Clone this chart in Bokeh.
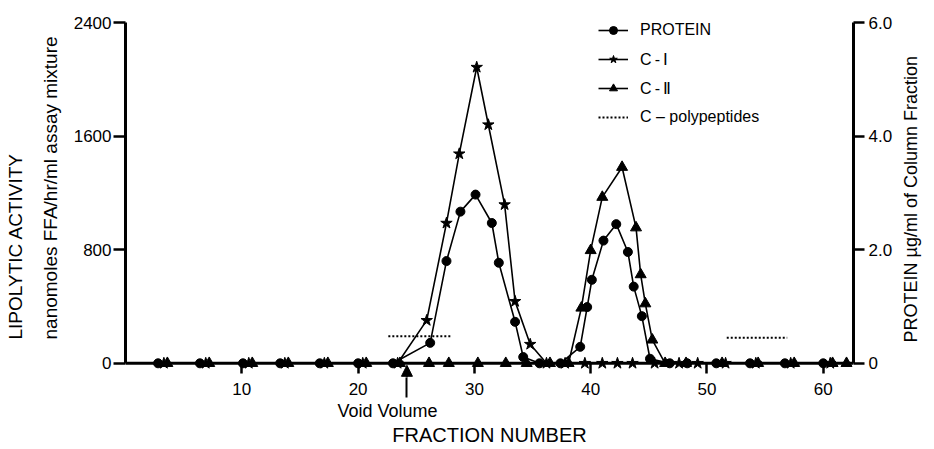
from math import pi
from bokeh.plotting import figure
from bokeh.models import (Range1d, LinearAxis, FixedTicker, Arrow, Span, Title,
                          NormalHead, Legend, LegendItem)
from bokeh.embed import file_html
from bokeh.resources import INLINE

FONT = "Liberation Sans"

# ---- data ----
protein_fraction = [2.8, 6.4, 10.1, 13.3, 16.7, 20.0, 23.0,
                    26.2, 27.6, 28.8, 30.1, 31.5, 32.1, 33.5, 34.2,
                    35.6, 37.4,
                    39.1, 39.7, 40.1, 41.1, 42.2, 43.2, 43.7, 44.4, 45.1,
                    46.8, 48.3, 50.8, 53.7, 56.7, 60.0]
protein_ug_ml = [0, 0, 0, 0, 0, 0, 0,
                 0.36, 1.80, 2.67, 2.97, 2.47, 1.77, 0.73, 0.11,
                 0, 0,
                 0.29, 0.99, 1.47, 2.16, 2.45, 1.96, 1.35, 0.83, 0.08,
                 0, 0, 0, 0, 0, 0]

c1_fraction = [3.3, 6.9, 10.6, 13.7, 17.1, 20.4, 23.4,
               25.9, 27.6, 28.7, 30.2, 31.2, 32.6, 33.5, 34.8,
               36.2, 37.8, 39.5, 41.0, 42.3, 43.6, 45.5,
               47.6, 49.2, 51.6, 54.2, 57.2, 60.6]
c1_activity = [0, 0, 0, 0, 0, 0, 0,
               302, 987, 1475, 2085, 1680, 1117, 436, 134,
               0, 0, 0, 0, 0, 0, 0,
               0, 0, 0, 0, 0, 0]

c2_fraction = [3.6, 7.2, 10.9, 14.0, 17.4, 20.7, 23.6,
               26.1, 27.8, 30.3, 32.7, 34.5, 36.5, 38.1,
               39.2, 40.0, 41.0, 42.7, 43.9, 44.3, 44.7, 45.3,
               46.4, 48.2, 51.3, 54.4, 57.5, 60.8, 62.0]
c2_activity = [0, 0, 0, 0, 0, 0, 0,
               0, 0, 0, 0, 0, 0, 0,
               390, 795, 1170, 1381, 955, 625, 420, 165,
               0, 0, 0, 0, 0, 0, 0]

cpoly_start = [22.6, 51.7]
cpoly_end = [28.0, 56.9]
cpoly_activity = [190, 180]

void_fraction = 24.2

x_ticks = [10, 20, 30, 40, 50, 60]
left_ticks = [0, 800, 1600, 2400]
right_ticks = [0, 2, 4, 6]
right_tick_labels = ["0", "2.0", "4.0", "6.0"]

# ---- figure ----
p = figure(width=934, height=449, output_backend="svg", toolbar_location=None,
           title=None, x_range=Range1d(0, 62.6), y_range=Range1d(-100, 2400),
           min_border_left=125, min_border_right=81, min_border_top=22,
           min_border_bottom=72, outline_line_color=None)
p.grid.visible = False
p.extra_y_ranges = {"protein": Range1d(-0.25, 6.0)}


def style_axis(ax, tick_out, standoff):
    ax.axis_line_width = 3
    ax.axis_line_color = "black"
    ax.major_tick_line_width = 2.5
    ax.major_tick_line_color = "black"
    ax.major_tick_out = tick_out
    ax.major_tick_in = 0
    ax.minor_tick_out = 0
    ax.minor_tick_in = 0
    ax.major_label_text_font = FONT
    ax.major_label_text_font_size = "17px"
    ax.major_label_text_color = "black"
    ax.major_label_standoff = standoff


# bottom axis: line drawn at y = 0 by a span, ticks start at y = 0
xax = p.xaxis[0]
xax.ticker = FixedTicker(ticks=x_ticks, minor_ticks=[void_fraction])
style_axis(xax, -4, -15)
xax.axis_line_color = None
xax.major_tick_in = 14
xax.minor_tick_in = 0
xax.minor_tick_out = 20
xax.minor_tick_line_width = 2
xax.minor_tick_line_color = "black"
p.add_layout(Span(location=0, dimension="width", line_color="black", line_width=3))

yax = p.yaxis[0]
yax.ticker = FixedTicker(ticks=left_ticks)
yax.bounds = (0, 2400)
style_axis(yax, 12, 2)

rax = LinearAxis(y_range_name="protein", ticker=FixedTicker(ticks=right_ticks),
                 major_label_overrides={t: s for t, s in zip(right_ticks, right_tick_labels)},
                 bounds=(0, 6))
style_axis(rax, 11, 4)
rax.axis_label = "\u00a0" * 7 + "PROTEIN    \u00b5g/ml of Column Fraction"
rax.axis_label_text_font = FONT
rax.axis_label_text_font_size = "18px"
rax.axis_label_text_font_style = "normal"
rax.axis_label_text_color = "black"
rax.axis_label_standoff = 16
try:
    rax.axis_label_orientation = pi / 2
except Exception:
    pass
try:
    rax.axis_label_align = "start"
except Exception:
    pass
p.add_layout(rax, "right")

# ---- series ----
pl = p.line(protein_fraction, protein_ug_ml, y_range_name="protein",
            line_color="black", line_width=1.6)
ps = p.scatter(protein_fraction, protein_ug_ml, y_range_name="protein",
               marker="circle", size=9, fill_color="black", line_color="black")

c1l = p.line(c1_fraction, c1_activity, line_color="black", line_width=1.6)
c1s = p.scatter(c1_fraction, c1_activity, marker="star", size=12,
                fill_color="black", line_color="black")

c2l = p.line(c2_fraction, c2_activity, line_color="black", line_width=1.6)
c2s = p.scatter(c2_fraction, c2_activity, marker="triangle", size=11,
                fill_color="black", line_color="black")

cp = p.multi_line([[a, b] for a, b in zip(cpoly_start, cpoly_end)],
                  [[v, v] for v in cpoly_activity],
                  line_color="black", line_width=2, line_dash="2 2")

legend = Legend(items=[
    LegendItem(label="PROTEIN", renderers=[pl, ps]),
    LegendItem(label="C\u2009-\u2009\u2160", renderers=[c1l, c1s]),
    LegendItem(label="C\u2009-\u2009\u2161", renderers=[c2l, c2s]),
    LegendItem(label="C \u2013 polypeptides", renderers=[cp]),
], location=(473, 250), glyph_width=30, glyph_height=20, label_height=20,
    spacing=9, padding=0, margin=0, label_standoff=12,
    background_fill_alpha=0, border_line_color=None,
    label_text_font=FONT, label_text_font_size="16px", label_text_color="black")
p.add_layout(legend)

# ---- void volume arrow (head inside the frame, stem continues as minor tick) ----
p.add_layout(Arrow(end=NormalHead(size=11, fill_color="black", line_color="black"),
                   x_start=void_fraction, y_start=-100,
                   x_end=void_fraction, y_end=-14,
                   line_width=2, line_color="black"))

# ---- outer texts ----
def title(text, align, offset, standoff, size):
    return Title(text=text, align=align, offset=offset, standoff=standoff,
                 text_font=FONT, text_font_size=size, text_font_style="normal",
                 text_color="black")

p.add_layout(title("nanomoles  FFA/hr/ml  assay mixture", "left", 38, 20, "19px"), "left")
p.add_layout(title("LIPOLYTIC ACTIVITY", "left", 38, 4, "19px"), "left")
p.add_layout(title("Void Volume", "left", 212, 2, "18px"), "below")
p.add_layout(title("FRACTION NUMBER", "center", 4, 1, "20px"), "below")

open("out.html", "w").write(file_html(p, INLINE))
